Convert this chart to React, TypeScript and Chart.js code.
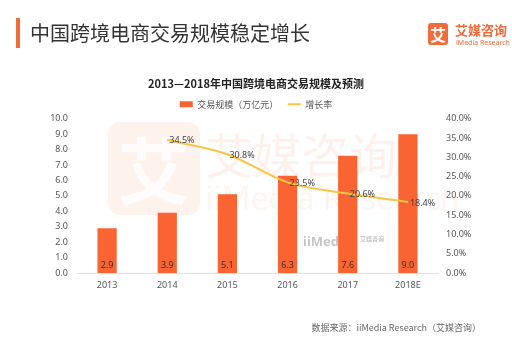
import React, { useEffect, useRef } from "react";
import { Chart, registerables } from "chart.js";

Chart.register(...registerables);

const categories = ["2013", "2014", "2015", "2016", "2017", "2018E"];
const scaleValues = [2.9, 3.9, 5.1, 6.3, 7.6, 9.0];
const growthValues: (number | null)[] = [null, 34.5, 30.8, 23.5, 20.6, 18.4];
const chartTitle = "2013—2018年中国跨境电商交易规模及预测";
const barLabel = "交易规模（万亿元）";
const lineLabel = "增长率";
const headerTitle = "中国跨境电商交易规模稳定增长";
const sourceText = "数据来源：iiMedia Research（艾媒咨询）";

const ORANGE = "#FA6432";
const YELLOW = "#F6C646";
const FONT = "'Noto Sans', 'Noto Sans CJK SC', sans-serif";
const CJK = "'Noto Sans CJK SC', 'Noto Sans', sans-serif";

const decorPlugin = {
  id: "decor",
  beforeDatasetsDraw(chart: any) {
    const ctx = chart.ctx;
    ctx.save();
    // watermark square
    const x = 108, y = 122, w = 92, h = 93, r = 12;
    ctx.beginPath();
    ctx.moveTo(x + r, y);
    ctx.arcTo(x + w, y, x + w, y + h, r);
    ctx.arcTo(x + w, y + h, x, y + h, r);
    ctx.arcTo(x, y + h, x, y, r);
    ctx.arcTo(x, y, x + w, y, r);
    ctx.closePath();
    ctx.fillStyle = "rgba(248,130,80,0.10)";
    ctx.fill();
    ctx.fillStyle = "rgba(255,255,255,0.8)";
    ctx.font = `bold 72px ${CJK}`;
    ctx.textAlign = "center";
    ctx.textBaseline = "middle";
    ctx.fillText("艾", x + w / 2, y + h / 2 + 2);
    ctx.textAlign = "left";
    ctx.fillStyle = "rgba(248,130,80,0.11)";
    ctx.font = `48px ${CJK}`;
    ctx.fillText("艾媒咨询", 205, 156);
    ctx.font = `32px ${FONT}`;
    ctx.fillStyle = "rgba(248,130,80,0.08)";
    ctx.fillText("iiMedia Research", 205, 201);
    // small logo
    ctx.fillStyle = "rgba(140,140,140,0.5)";
    ctx.font = `bold 13px ${FONT}`;
    ctx.fillText("iiMedia", 303, 242);
    ctx.font = `bold 6px ${CJK}`;
    ctx.fillText("艾媒咨询", 360, 239);
    ctx.restore();
  },
  afterDatasetsDraw(chart: any) {
    const ctx = chart.ctx;
    ctx.save();
    ctx.textBaseline = "middle";
    const barMeta = chart.getDatasetMeta(0);
    ctx.font = `9px ${FONT}`;
    ctx.fillStyle = "#333";
    ctx.textAlign = "center";
    barMeta.data.forEach((el: any, i: number) => {
      ctx.fillText(scaleValues[i].toFixed(1), el.x, el.base - 8);
    });
    const lineMeta = chart.getDatasetMeta(1);
    ctx.textAlign = "left";
    ctx.fillStyle = "#444";
    lineMeta.data.forEach((el: any, i: number) => {
      const v = growthValues[i];
      if (v == null) return;
      ctx.fillText(v.toFixed(1) + "%", el.x + 2, el.y + 1);
    });
    ctx.restore();
  },
};

export default function App() {
  const ref = useRef<HTMLCanvasElement>(null);
  useEffect(() => {
    if (!ref.current) return;
    const chart = new Chart(ref.current, {
      type: "bar",
      data: {
        labels: categories,
        datasets: [
          {
            type: "bar",
            label: barLabel,
            data: scaleValues,
            backgroundColor: ORANGE,
            borderWidth: 0,
            yAxisID: "y",
            categoryPercentage: 1,
            barPercentage: 0.32,
            order: 2,
            pointStyle: "rect",
          } as any,
          {
            type: "line",
            label: lineLabel,
            data: growthValues,
            borderColor: YELLOW,
            backgroundColor: YELLOW,
            borderWidth: 2,
            pointRadius: 0,
            cubicInterpolationMode: "monotone",
            yAxisID: "y1",
            order: 1,
            pointStyle: "line",
          } as any,
        ],
      },
      options: {
        animation: false,
        responsive: false,
        devicePixelRatio: 1,
        layout: { padding: { top: 77, left: 0, right: 0, bottom: 0 } },
        plugins: {
          tooltip: { enabled: false },
          title: {
            display: true,
            text: chartTitle,
            color: "#222",
            font: { family: CJK, size: 11, weight: "bold" },
            padding: { top: 0, bottom: 0 },
          },
          legend: {
            display: true,
            position: "top",
            labels: {
              usePointStyle: true,
              pointStyleWidth: 13,
              boxHeight: 6,
              padding: 9.5,
              color: "#555",
              font: { family: CJK, size: 9 },
              sort: (a: any, b: any) => a.datasetIndex - b.datasetIndex,
            },
          },
        },
        scales: {
          x: {
            grid: { display: false, drawTicks: false },
            border: { display: true, color: "#e3e3e3", width: 1 },
            ticks: { color: "#555", font: { family: FONT, size: 9 }, padding: 7 },
            afterFit: (s: any) => {
              s.height = 67;
            },
          },
          y: {
            position: "left",
            min: 0,
            max: 10,
            grid: { display: false, drawTicks: false },
            border: { display: false },
            ticks: {
              stepSize: 1,
              color: "#555",
              font: { family: FONT, size: 9 },
              padding: 9,
              callback: (v: any) => Number(v).toFixed(1),
            },
            afterFit: (s: any) => {
              s.width = 77;
            },
          },
          y1: {
            position: "right",
            min: 0,
            max: 40,
            grid: { display: false, drawTicks: false },
            border: { display: false },
            ticks: {
              stepSize: 5,
              color: "#555",
              font: { family: FONT, size: 9 },
              padding: 8,
              callback: (v: any) => Number(v).toFixed(1) + "%",
            },
            afterFit: (s: any) => {
              s.width = 74;
            },
          },
        },
      },
      plugins: [decorPlugin],
    });
    return () => chart.destroy();
  }, []);

  return (
    <div style={{ position: "absolute", left: 0, top: 0, width: 512, height: 340, background: "#fff", overflow: "hidden" }}>
      <canvas ref={ref} width={512} height={340} style={{ position: "absolute", left: 0, top: 0 }} />
      <div style={{ position: "absolute", left: 16, top: 18, width: 4, height: 30, background: "#F26B3A" }} />
      <div style={{ position: "absolute", left: 30, top: 20, fontFamily: CJK, fontSize: 20, lineHeight: "26px", color: "#333", whiteSpace: "nowrap" }}>
        {headerTitle}
      </div>
      <div style={{ position: "absolute", left: 428, top: 23, width: 20, height: 22, borderRadius: 3, background: "#F26B3A", color: "#fff", fontFamily: CJK, fontWeight: "bold", fontSize: 16, lineHeight: "22px", textAlign: "center" }}>
        艾
      </div>
      <div style={{ position: "absolute", left: 455, top: 22, fontFamily: CJK, fontWeight: "bold", fontSize: 13, lineHeight: "16px", color: "#F26B3A", whiteSpace: "nowrap" }}>
        艾媒咨询
      </div>
      <div style={{ position: "absolute", left: 456, top: 38, fontFamily: FONT, fontSize: 7, lineHeight: "9px", color: "#F26B3A", whiteSpace: "nowrap" }}>
        iMedia Research
      </div>
      <div style={{ position: "absolute", right: 31, top: 321, fontFamily: CJK, fontSize: 9, lineHeight: "14px", color: "#666", whiteSpace: "nowrap" }}>
        {sourceText}
      </div>
    </div>
  );
}
